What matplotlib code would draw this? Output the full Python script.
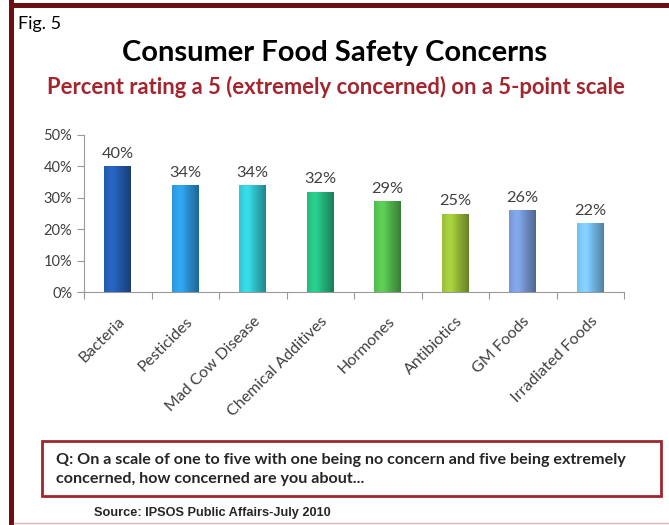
import numpy as np
import matplotlib.pyplot as plt
from matplotlib.colors import to_rgb
from matplotlib.patches import Rectangle
from matplotlib.ticker import PercentFormatter

plt.rcParams['font.family'] = ['Lato', 'DejaVu Sans']

categorias = ['Bacteria', 'Pesticides', 'Mad Cow Disease', 'Chemical Additives',
              'Hormones', 'Antibiotics', 'GM Foods', 'Irradiated Foods']
porcentajes = [40, 34, 34, 32, 29, 25, 26, 22]
colores = ['#2257a6', '#2a8fd0', '#2fbdc7', '#23b27a',
           '#50b24b', '#92b536', '#7091cb', '#72b5e4']
ticks_y = [0, 10, 20, 30, 40, 50]

titulo = 'Consumer Food Safety Concerns'
subtitulo = 'Percent rating a 5 (extremely concerned) on a 5-point scale'
pregunta = ('Q: On a scale of one to five with one being no concern and five being extremely\n'
            'concerned, how concerned are you about...')
fuente = 'Source: IPSOS Public Affairs-July 2010'

GRANATE = '#6b0f14'
ROJO = '#a3262e'
GRIS = '#404040'


def degradado(color, n=64):
    # sombreado horizontal: claro hacia la izquierda, oscuro en el borde derecho
    base = np.array(to_rgb(color))
    t = np.linspace(0, 1, n)
    f = 1.0 + 0.18 * np.exp(-((t - 0.3) / 0.25) ** 2) - 0.30 * t ** 3
    fila = np.clip(base[None, :] * f[:, None], 0, 1)
    return fila[None, :, :]


fig = plt.figure(figsize=(6.69, 5.25), dpi=100)

# marco granate de la figura
fig.add_artist(Rectangle((9 / 669, 0), 5 / 669, 1, transform=fig.transFigure,
                         color=GRANATE, lw=0))
fig.add_artist(Rectangle((9 / 669, 1 - 8 / 525), 1, 5 / 525, transform=fig.transFigure,
                         color=GRANATE, lw=0))
fig.add_artist(plt.Line2D([14 / 669, 1], [2 / 525, 2 / 525], transform=fig.transFigure,
                          color='#d9b8bb', lw=1))

fig.text(18 / 669, 1 - 24 / 525, 'Fig. 5', fontsize=13, va='center', ha='left')
fig.text(335 / 669, 1 - 53 / 525, titulo, fontsize=21, fontweight='bold',
         ha='center', va='center')
fig.text(336 / 669, 1 - 87 / 525, subtitulo, fontsize=15.8, fontweight='bold',
         color=ROJO, ha='center', va='center')

ax = fig.add_axes([84 / 669, 233 / 525, 540 / 669, 157 / 525])
x = np.arange(len(categorias))
ancho = 0.4
barras = ax.bar(x, porcentajes, width=ancho, color=colores, zorder=2)
for b, c, v in zip(barras, colores, porcentajes):
    img = ax.imshow(degradado(c), extent=[b.get_x(), b.get_x() + ancho, 0, v],
                    aspect='auto', zorder=3, interpolation='bilinear')
    img.set_clip_path(b)
    ax.text(b.get_x() + ancho / 2, v + 1.7, f'{v}%', ha='center', va='bottom',
            fontsize=11.8, color=GRIS)

ax.set_xlim(-0.5, len(categorias) - 0.5)
ax.set_ylim(0, 50)
ax.set_yticks(ticks_y)
ax.yaxis.set_major_formatter(PercentFormatter(decimals=0))
ax.set_xticks(np.arange(-0.5, len(categorias), 1))
ax.set_xticklabels([])
ax.set_xticks(x, minor=True)
ax.set_xticklabels(categorias, minor=True, rotation=45, ha='right',
                   rotation_mode='anchor', fontsize=11.5, color=GRIS)
ax.tick_params(axis='x', which='minor', length=0, pad=16)
ax.tick_params(axis='x', which='major', length=5, color='#999999')
ax.tick_params(axis='y', length=5, color='#999999', labelsize=10.5, labelcolor=GRIS)
for lado in ['top', 'right']:
    ax.spines[lado].set_visible(False)
ax.spines['left'].set_color('#999999')
ax.spines['bottom'].set_color('#999999')

# recuadro con la pregunta de la encuesta
fig.add_artist(Rectangle((42 / 669, 1 - 496 / 525), 619 / 669, 55 / 525,
                         transform=fig.transFigure, fill=False, edgecolor=ROJO, lw=2))
fig.text(56 / 669, 1 - 469.5 / 525, pregunta, fontsize=11.6, fontweight='bold',
         color='#262626', ha='left', va='center', linespacing=1.45)
fig.text(94 / 669, 1 - 513 / 525, fuente, fontsize=9.2, fontweight='bold',
         color='#262626', ha='left', va='center',
         family=['Liberation Sans Narrow', 'Liberation Sans'])

fig.savefig('out.png', dpi=100)
